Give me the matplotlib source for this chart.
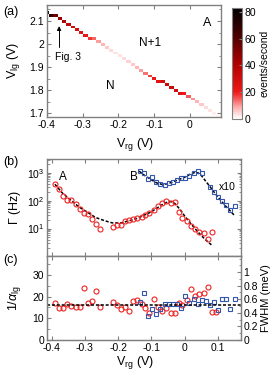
import matplotlib
matplotlib.use('Agg')
import matplotlib.pyplot as plt
import numpy as np
from matplotlib.colors import LinearSegmentedColormap
from matplotlib.ticker import MultipleLocator, LogLocator, NullFormatter

plt.rcParams['font.family'] = ['Liberation Sans', 'DejaVu Sans']
plt.rcParams['mathtext.fontset'] = 'custom'
plt.rcParams['mathtext.rm'] = 'Liberation Sans'
plt.rcParams['mathtext.it'] = 'Liberation Sans:italic'
plt.rcParams['axes.unicode_minus'] = False

## (a) charge transition line in the Vrg / Vlg plane
vrg_map = np.round(np.arange(-0.4, 0.0801, 0.012), 3)
vlg_map = [2.140, 2.129, 2.118, 2.107, 2.096, 2.085, 2.074, 2.063, 2.052, 2.041,
           2.029, 2.018, 2.006, 1.995, 1.983, 1.972, 1.960, 1.948, 1.936, 1.924,
           1.912, 1.900, 1.888, 1.876, 1.864, 1.852, 1.841, 1.830, 1.820, 1.810,
           1.800, 1.790, 1.780, 1.770, 1.760, 1.749, 1.738, 1.727, 1.716, 1.704,
           1.692]
rate_map = [80, 70, 55, 45, 40, 36, 32, 28, 25, 22,
            18, 14, 10, 8, 6, 4, 3, 3, 4, 5,
            6, 8, 10, 13, 17, 21, 25, 30, 33, 32,
            30, 26, 20, 15, 11, 8, 6, 4, 3, 2,
            1]

## (b) tunnel rates, transition A and B (x10)
vrg_A = [-0.3907, -0.3775, -0.3658, -0.3532, -0.3406, -0.3274, -0.3157, -0.3034,
         -0.2915, -0.2783, -0.2657, -0.2534, -0.2168, -0.2045, -0.1916, -0.1796,
         -0.1676, -0.1550, -0.1424, -0.1298, -0.1193, -0.1064, -0.0936, -0.0816,
         -0.0684, -0.0564, -0.0426, -0.0306, -0.0186, -0.0075, 0.0066, 0.0189,
         0.0315, 0.0435, 0.0564, 0.0690, 0.0804, 0.0936]
gamma_A = [383, 268, 148, 106, 104, 75, 49, 36, 32, 22, 14.8, 9.8,
           11.6, 13.2, 12.9, 18.2, 20.5, 22.7, 23.5, 25.7, 30, 37, 46, 63,
           80, 95, 80, 87, 40, 23.6, 19, 12.5, 9.8, 7.8, 7.2, 4.1, 7.8, np.nan]
vrg_B = [-0.1355, -0.1235, -0.1094, -0.0983, -0.0855, -0.0735, -0.0606, -0.0486,
         -0.0366, -0.0234, -0.0105, 0.0015, 0.0135, 0.0264, 0.0384, 0.0516,
         0.0636, 0.0765, 0.0885, 0.1005, 0.1124, 0.1244, 0.1373, 0.1500]
gamma_B = [1190, 1010, 614, 724, 452, 383, 364, 430, 478, 551, 629, 629,
           767, 1010, 1160, 985, np.nan, 316, 204, 135, 97, 73, 48, 64]

fit_x_A = [-0.39, -0.366, -0.34, -0.318, -0.29, -0.268, -0.24, -0.218, -0.19,
           -0.16, -0.14, -0.12, -0.10, -0.08, -0.06, -0.045, -0.03, -0.015,
           0.0, 0.02, 0.04, 0.06, 0.08]
fit_y_A = [390, 180, 100, 60, 37, 25, 19, 16, 16, 20, 24, 31, 40, 58, 82, 95,
           80, 50, 28, 14, 7.5, 4.2, 2.6]
fit_x_B = [-0.137, -0.12, -0.10, -0.085, -0.07, -0.055, -0.04, -0.02, 0.0, 0.015,
           0.03, 0.04, 0.05, 0.06, 0.075, 0.09, 0.105, 0.12, 0.135, 0.15]
fit_y_B = [1150, 800, 560, 440, 390, 400, 450, 560, 700, 880, 1030, 1000, 800,
           560, 330, 190, 115, 70, 45, 29]

## (c) lever arm
inv_alpha_A = [16.9, 14.6, 14.6, 16.6, 15.8, 15.4, 15.4, 24.1, 17.2, 18.0, 22.6, 15.4,
               17.4, 16.2, 14.3, 15.4, 13.5, 18.1, 18.5, 16.6, 14.6, 12.6, 18.9, 15.4,
               13.5, 14.6, 12.3, 12.3, 16.9, 16.2, 18.5, 23.5, 20.4, 21.1, 21.8, 24.3,
               13.1, 13.1]
inv_alpha_B = [17.3, 21.8, 11.1, 14.5, 12.2, 14.4, 16.6, 16.6, 16.8, 16.6, 14.8, 20.3,
               17.0, 18.8, 16.7, 18.6, 17.8, 16.2, 17.7, 14.0, 18.8, 18.8, 14.3, 18.8]
inv_alpha_mean = 16.2

RED = '#ee2222'
BLUE = '#3355aa'
GREY = '#808080'


def style_axis(ax):
    for sp in ax.spines.values():
        sp.set_color(GREY)
        sp.set_linewidth(1.0)
    ax.tick_params(which='both', direction='in', top=True, right=True,
                   color=GREY, labelsize=7.5, pad=2)
    ax.tick_params(which='major', length=3)
    ax.tick_params(which='minor', length=1.8)


fig = plt.figure(figsize=(2.76, 3.74), dpi=100)

# ---- panel (a)
ax_a = fig.add_axes([0.170, 0.687, 0.631, 0.300])
cmap = LinearSegmentedColormap.from_list(
    'wrk', [(0.0, '#ffffff'), (0.10, '#ffb0b0'), (0.24, '#f01818'),
            (0.5, '#b00000'), (0.75, '#4a0000'), (1.0, '#000000')])
y_edges = np.arange(1.68, 2.1701, 0.0125)
x_edges = np.append(vrg_map - 0.006, vrg_map[-1] + 0.006)
grid = np.full((len(y_edges) - 1, len(vrg_map)), np.nan)
for col, (vl, r) in enumerate(zip(vlg_map, rate_map)):
    row = np.searchsorted(y_edges, vl) - 1
    grid[row, col] = r
mesh = ax_a.pcolormesh(x_edges, y_edges, np.ma.masked_invalid(grid),
                       cmap=cmap, vmin=0, vmax=83)
ax_a.set_xlim(-0.4, 0.087)
ax_a.set_ylim(1.683, 2.17)
ax_a.yaxis.set_minor_locator(MultipleLocator(0.05))
ax_a.set_xticks([-0.4, -0.3, -0.2, -0.1, 0])
ax_a.set_xticklabels(['-0.4', '-0.3', '-0.2', '-0.1', '0'])
ax_a.set_yticks([1.7, 1.8, 1.9, 2.0, 2.1])
ax_a.set_yticklabels(['1.7', '1.8', '1.9', '2', '2.1'])
style_axis(ax_a)
ax_a.set_xlabel(r'V$_{\rm rg}$ (V)', fontsize=9)
ax_a.xaxis.set_label_coords(0.505, -0.17)
ax_a.set_ylabel(r'V$_{\rm lg}$ (V)', fontsize=9)
ax_a.yaxis.set_label_coords(-0.145, 0.5)
ax_a.text(0.036, 2.09, 'A', fontsize=9, ha='left', va='center')
ax_a.text(-0.112, 2.004, 'N+1', fontsize=8.5, ha='center', va='center')
ax_a.text(-0.224, 1.817, 'N', fontsize=8.5, ha='center', va='center')
ax_a.annotate('Fig. 3', xy=(-0.366, 2.078), xytext=(-0.341, 1.943),
              fontsize=7.5, ha='center', va='center',
              arrowprops=dict(arrowstyle='-|>', color='black', lw=0.7,
                              mutation_scale=6, shrinkB=0,
                              connectionstyle='angle,angleA=0,angleB=90,rad=0',
                              relpos=(0.2, 1.0)))

cax = fig.add_axes([0.841, 0.682, 0.036, 0.297])
cb = fig.colorbar(mesh, cax=cax, ticks=[0, 20, 40, 60, 80])
cb.outline.set_edgecolor(GREY)
cb.ax.tick_params(labelsize=7.5, direction='in', color=GREY, length=2, pad=2)
cb.set_label('events/second', fontsize=7.5, labelpad=2)

# ---- panel (b)
ax_b = fig.add_axes([0.170, 0.316, 0.702, 0.259])
ax_b.plot(fit_x_A, fit_y_A, color='black', lw=1.1, ls=(0, (2, 1.2)))
ax_b.plot(fit_x_B, fit_y_B, color='black', lw=1.1, ls=(0, (2, 1.2)))
ax_b.plot(vrg_A, gamma_A, 'o', mfc='none', mec=RED, ms=3.6, mew=0.8)
ax_b.plot(vrg_B, gamma_B, 's', mfc='none', mec=BLUE, ms=3.3, mew=0.8)
ax_b.set_yscale('log')
ax_b.set_ylim(1.05, 3160)
ax_b.set_xlim(-0.414, 0.168)
ax_b.yaxis.set_minor_locator(LogLocator(base=10, subs=np.arange(2, 10), numticks=10))
ax_b.yaxis.set_minor_formatter(NullFormatter())
ax_b.set_yticks([10, 100, 1000])
ax_b.xaxis.set_major_locator(MultipleLocator(0.1))
ax_b.tick_params(labelbottom=False)
style_axis(ax_b)
ax_b.set_ylabel(r'$\Gamma$ (Hz)', fontsize=9)
ax_b.yaxis.set_label_coords(-0.125, 0.5)
ax_b.text(-0.366, 700, 'A', fontsize=8.5, ha='center', va='center')
ax_b.text(-0.153, 700, 'B', fontsize=8.5, ha='center', va='center')
ax_b.text(0.103, 310, 'x10', fontsize=7.5, ha='left', va='center')

# ---- panel (c)
ax_c = fig.add_axes([0.170, 0.091, 0.702, 0.225])
ax_c.plot(vrg_A, inv_alpha_A, 'o', mfc='none', mec=RED, ms=3.6, mew=0.8)
ax_c.plot(vrg_B, inv_alpha_B, 's', mfc='none', mec=BLUE, ms=3.3, mew=0.8)
ax_c.axhline(inv_alpha_mean, color='black', lw=1.1, ls=(0, (2, 1.2)))
ax_c.set_xlim(-0.414, 0.168)
ax_c.set_ylim(0, 38.8)
ax_c.set_xticks([-0.4, -0.3, -0.2, -0.1, 0, 0.1])
ax_c.set_xticklabels(['-0.4', '-0.3', '-0.2', '-0.1', '0', '0.1'])
ax_c.yaxis.set_major_locator(MultipleLocator(10))
ax_c.yaxis.set_minor_locator(MultipleLocator(5))
style_axis(ax_c)
ax_c.tick_params(right=False, which='both')
ax_c.set_xlabel(r'V$_{\rm rg}$ (V)', fontsize=9)
ax_c.xaxis.set_label_coords(0.454, -0.17)
ax_c.set_ylabel(r'1/$\alpha_{\rm lg}$', fontsize=9)
ax_c.yaxis.set_label_coords(-0.125, 0.5)

ax_r = ax_c.twinx()
ax_r.set_ylim(0, 1.24)
ax_r.set_yticks([0, 0.2, 0.4, 0.6, 0.8, 1.0])
ax_r.set_yticklabels(['0', '0.2', '0.4', '0.6', '0.8', '1'])
ax_r.yaxis.set_minor_locator(MultipleLocator(0.1))
for sp in ax_r.spines.values():
    sp.set_color(GREY)
ax_r.tick_params(which='both', direction='in', color=GREY, labelsize=7.5, pad=2)
ax_r.tick_params(which='major', length=3)
ax_r.tick_params(which='minor', length=1.8)
ax_r.set_ylabel('FWHM (meV)', fontsize=8)
ax_r.yaxis.set_label_coords(1.105, 0.5)

fig.text(0.011, 0.985, '(a)', fontsize=9, ha='left', va='top')
fig.text(0.011, 0.583, '(b)', fontsize=9, ha='left', va='top')
fig.text(0.011, 0.322, '(c)', fontsize=9, ha='left', va='top')

fig.savefig('out.png', dpi=100)
